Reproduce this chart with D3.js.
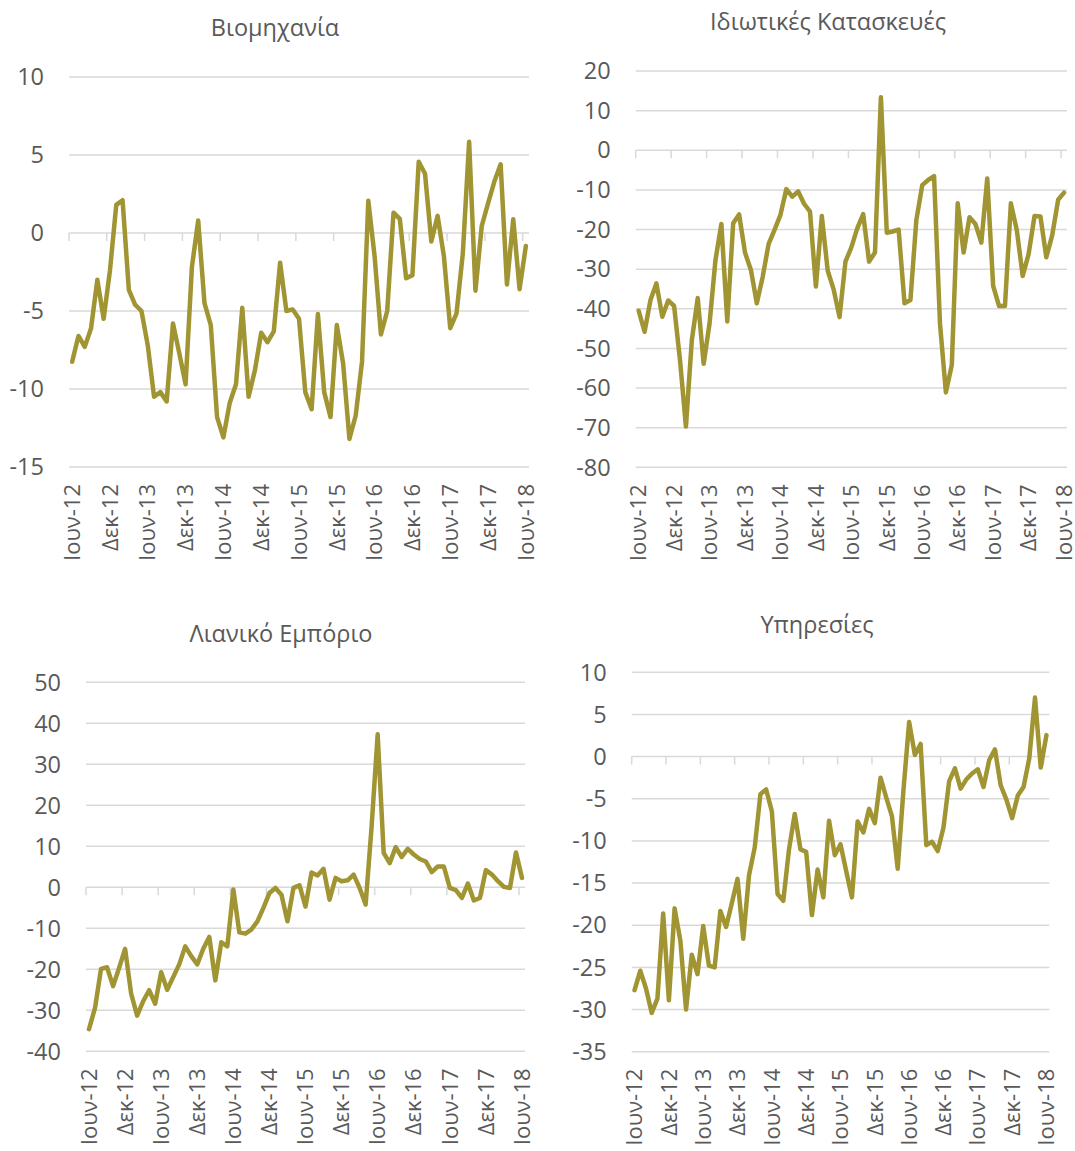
<!DOCTYPE html>
<html>
<head>
<meta charset="utf-8">
<title>Panels</title>
<script src="https://d3js.org/d3.v7.min.js"></script>
<style>
	body { margin: 0; background: #fff; }
	svg text { font-family: "Open Sans", "Noto Sans", sans-serif; fill: #595959; }
</style>
</head>
<body>
<script>
// monthly values, Ιουν-12 .. Ιουν-18 (73 months)
var industry = [-8.25,-6.6,-7.3,-6.1,-3.0,-5.5,-2.4,1.8,2.1,-3.65,-4.6,-5.0,-7.2,-10.5,-10.2,-10.8,-5.8,-7.7,-9.7,-2.2,
	0.8,-4.5,-5.9,-11.8,-13.1,-10.9,-9.7,-4.8,-10.5,-8.8,-6.4,-7.0,-6.3,-1.9,-5.0,-4.9,-5.5,-10.2,-11.3,-5.2,
	-10.2,-11.8,-5.9,-8.35,-13.2,-11.7,-8.25,2.07,-1.5,-6.5,-5.0,1.3,0.9,-2.9,-2.7,4.57,3.8,-0.55,1.1,-1.5,
	-6.1,-5.15,-1.3,5.85,-3.7,0.45,1.9,3.3,4.4,-3.3,0.88,-3.6,-0.83]
var construction = [-40.5,-45.8,-37.8,-33.6,-42.0,-37.9,-39.3,-53,-69.7,-47.9,-37.3,-53.9,-43.7,-27.7,-18.6,-43.2,-18.4,-16.2,-25.8,-30.2,
	-38.6,-31.9,-23.6,-20.1,-16.3,-9.8,-11.7,-10.4,-13.5,-15.5,-34.4,-16.6,-30.4,-35.1,-42.1,-28.1,-24.5,-19.7,-16.1,-28.1,
	-25.8,13.4,-20.8,-20.5,-20.0,-38.6,-37.8,-17.6,-8.8,-7.5,-6.5,-43.7,-61.1,-54.2,-13.4,-25.8,-16.9,-18.6,-23.3,-7.1,
	-34.2,-39.3,-39.3,-13.4,-20.1,-31.7,-26.2,-16.6,-16.7,-27.0,-21.4,-12.5,-10.7]
var retail = [-34.6,-29.4,-19.9,-19.5,-24.1,-19.7,-15.0,-25.9,-31.3,-27.8,-25.1,-28.4,-20.7,-25.0,-21.9,-18.8,-14.4,-16.8,-18.8,-15.0,
	-12.1,-22.7,-13.4,-14.4,-0.56,-11.0,-11.3,-10.3,-8.3,-5.0,-1.4,-0.15,-1.8,-8.3,-0.15,0.5,-4.7,3.6,2.9,4.5,
	-3.0,2.3,1.5,1.7,3.1,-0.15,-4.2,15,37.3,8.4,5.9,9.8,7.4,9.4,8.0,6.9,6.3,3.7,5.1,5.1,
	-0.15,-0.7,-2.6,0.9,-3.2,-2.6,4.2,3.1,1.5,0.1,-0.15,8.5,2.3]
var services = [-27.7,-25.4,-27.5,-30.4,-28.7,-18.6,-28.9,-18.0,-21.8,-30.0,-23.5,-25.8,-20.1,-24.8,-25.0,-18.3,-20.2,-17.4,-14.5,-21.6,
	-14.1,-10.8,-4.45,-3.9,-6.5,-16.3,-17.1,-11.0,-6.8,-11.0,-11.3,-18.8,-13.4,-16.7,-7.6,-11.7,-10.4,-13.6,-16.7,-7.7,
	-9.0,-6.2,-7.9,-2.5,-4.85,-7.1,-13.3,-4.0,4.1,0.2,1.5,-10.5,-10.1,-11.2,-8.4,-2.9,-1.4,-3.8,-2.7,-2.0,
	-1.5,-3.6,-0.4,0.85,-3.4,-5.1,-7.3,-4.6,-3.6,-0.2,7.0,-1.3,2.55]

var xLabels = ["Ιουν-12","Δεκ-12","Ιουν-13","Δεκ-13","Ιουν-14","Δεκ-14","Ιουν-15","Δεκ-15","Ιουν-16","Δεκ-16","Ιουν-17","Δεκ-17","Ιουν-18"]
var labelEvery = 6

var titles = ["Βιομηχανία", "Ιδιωτικές Κατασκευές", "Λιανικό Εμπόριο", "Υπηρεσίες"]
var yTicks1 = [-15,-10,-5,0,5,10]
var yTicks2 = [-80,-70,-60,-50,-40,-30,-20,-10,0,10,20]
var yTicks3 = [-40,-30,-20,-10,0,10,20,30,40,50]
var yTicks4 = [-35,-30,-25,-20,-15,-10,-5,0,5,10]

var lineColor = "#a09433"
var gridColor = "#d9d9d9"
var fontSize = "23.5px"

var svg = d3.select("body").append("svg").attr("width", 1075).attr("height", 1151)

function drawPanel(o){
	var g = svg.append("g")
	var ticks = o.ticks
	var x = d3.scaleBand().domain(d3.range(o.data.length)).range([o.left, o.right])
	var y = d3.scaleLinear().domain([ticks[0], ticks[ticks.length-1]]).range([o.bottom, o.top])

	// gridlines
	g.selectAll(".grid").data(ticks.filter(function(t){ return t != 0 })).enter().append("line")
		.attr("x1", o.left).attr("x2", o.right)
		.attr("y1", function(d){ return y(d) }).attr("y2", function(d){ return y(d) })
		.attr("stroke", gridColor).attr("stroke-width", 1.5)

	// zero axis with tick marks
	g.append("line").attr("x1", o.left).attr("x2", o.right).attr("y1", y(0)).attr("y2", y(0))
		.attr("stroke", gridColor).attr("stroke-width", 1.5)
	var tickIdx = d3.range(0, o.data.length, labelEvery)
	g.selectAll(".tk").data(tickIdx).enter().append("line")
		.attr("x1", function(i){ return x(i) }).attr("x2", function(i){ return x(i) })
		.attr("y1", y(0)).attr("y2", y(0) + 8)
		.attr("stroke", gridColor).attr("stroke-width", 1.5)

	// y labels
	g.selectAll(".yl").data(ticks).enter().append("text")
		.attr("x", o.left - 25).attr("y", function(d){ return y(d) })
		.attr("dy", "0.35em").attr("text-anchor", "end")
		.style("font-size", fontSize)
		.text(function(d){ return d })

	// x labels, rotated
	g.selectAll(".xl").data(xLabels).enter().append("text")
		.attr("transform", function(d, k){
			var cx = x(k * labelEvery) + x.bandwidth() / 2
			return "translate(" + cx + "," + (o.bottom + 17) + ") rotate(-90)"
		})
		.attr("dy", "0.35em").attr("text-anchor", "end")
		.style("font-size", "22px")
		.text(function(d){ return d })

	// title
	g.append("text").attr("x", o.tx).attr("y", o.ty).attr("dy", "0.35em")
		.attr("text-anchor", "middle").style("font-size", fontSize)
		.text(o.title)

	var line = d3.line()
		.x(function(d, i){ return x(i) + x.bandwidth() / 2 })
		.y(function(d){ return y(d) })
	g.append("path").datum(o.data).attr("d", line)
		.attr("fill", "none").attr("stroke", lineColor).attr("stroke-width", 4.5)
		.attr("stroke-linejoin", "round").attr("stroke-linecap", "round")
}

drawPanel({ data: industry, ticks: yTicks1, title: titles[0], left: 69, right: 529, top: 77, bottom: 467, tx: 275, ty: 28 })
drawPanel({ data: construction, ticks: yTicks2, title: titles[1], left: 635.7, right: 1067, top: 71, bottom: 467.3, tx: 828, ty: 22 })
drawPanel({ data: retail, ticks: yTicks3, title: titles[2], left: 86, right: 525, top: 682.3, bottom: 1051.3, tx: 281, ty: 634 })
drawPanel({ data: services, ticks: yTicks4, title: titles[3], left: 631.7, right: 1049.3, top: 672.3, bottom: 1051.7, tx: 817, ty: 625 })
</script>
</body>
</html>
